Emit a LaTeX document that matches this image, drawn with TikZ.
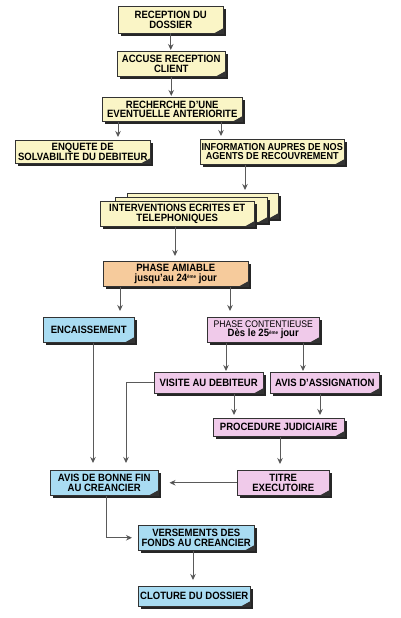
\documentclass[tikz,border=0pt]{standalone}
\usepackage{fontspec}
\setmainfont{Liberation Sans}[FakeStretch=0.9]
\usetikzlibrary{shadows,arrows.meta,calc}
\definecolor{cy}{HTML}{FAF5C6}
\definecolor{co}{HTML}{F6CB9C}
\definecolor{cb}{HTML}{A9DCF2}
\definecolor{cp}{HTML}{F0CAEA}
\definecolor{cline}{HTML}{5A5A5A}
\newcommand{\supx}[1]{\raisebox{2.6pt}{\fontsize{5}{5}\selectfont #1}}
\tikzset{
  bx/.style={draw=black!80, line width=0.5pt, fill=#1, anchor=north west,
    inner sep=1pt, align=center, text=black,
    font=\bfseries\fontsize{10.6}{9.4}\selectfont,
    drop shadow={shadow xshift=3pt, shadow yshift=-3pt, fill=black!85, opacity=1},
    path picture={\fill[black!80] ([xshift=-9pt]path picture bounding box.south east)
        -- ([yshift=5pt]path picture bounding box.south east)
        -- (path picture bounding box.south east) -- cycle;}},
  arr/.style={draw=cline, line width=0.8pt, -{Stealth[length=6pt,width=5.5pt,fill=black!85]}, shorten >=3pt}
}
\begin{document}
\begin{tikzpicture}[x=1pt,y=-1pt]
\useasboundingbox[fill=white] (0,0) rectangle (400,618);
% x positions for connectors
\foreach \v in {93,106,118,120,126,175,193,221,226,230,234,245,280,303,320}
  \coordinate (x\v) at (\v,0);
% boxes
\node[bx=cy, minimum width=105, minimum height=27] (b1) at (118,6) {RECEPTION DU\\DOSSIER};
\node[bx=cy, minimum width=108, minimum height=25] (b2) at (117,51) {ACCUSE RECEPTION\\CLIENT};
\node[bx=cy, minimum width=140, minimum height=24] (b3) at (102,97) {RECHERCHE D'UNE\\EVENTUELLE ANTERIORITE};
\node[bx=cy, minimum width=135, minimum height=23] (b4) at (15,140) {ENQUETE DE\\SOLVABILITE DU DEBITEUR};
\node[bx=cy, minimum width=144, minimum height=25, font=\bfseries\fontsize{10.1}{9.4}\selectfont] (b5) at (200,139) {INFORMATION AUPRES DE NOS\\AGENTS DE RECOUVREMENT};
\node[bx=cy, minimum width=151, minimum height=25] (b6c) at (127,193) {};
\node[bx=cy, minimum width=152, minimum height=25] (b6b) at (115,197) {};
\node[bx=cy, minimum width=154, minimum height=25] (b6a) at (100,201) {INTERVENTIONS ECRITES ET\\TELEPHONIQUES};
\node[bx=co, minimum width=145, minimum height=25] (b7) at (103,261) {PHASE AMIABLE\\jusqu'au 24\supx{ème} jour};
\node[bx=cb, minimum width=91, minimum height=25] (b8) at (43,317) {ENCAISSEMENT};
\node[bx=cp, minimum width=112, minimum height=25] (b9) at (207,317) {{\mdseries\fontsize{9.6}{9}\selectfont PHASE CONTENTIEUSE}\\Dès le 25\supx{ème} jour};
\node[bx=cp, minimum width=109, minimum height=21] (b10) at (154,372) {VISITE AU DEBITEUR};
\node[bx=cp, minimum width=109, minimum height=21] (b11) at (270,372) {AVIS D'ASSIGNATION};
\node[bx=cp, minimum width=131, minimum height=18] (b12) at (213,418) {PROCEDURE JUDICIAIRE};
\node[bx=cp, minimum width=92, minimum height=25] (b13) at (237,470) {TITRE\\EXECUTOIRE};
\node[bx=cb, minimum width=108, minimum height=25] (b14) at (50,470) {AVIS DE BONNE FIN\\AU CREANCIER};
\node[bx=cb, minimum width=116, minimum height=25] (b15) at (138,525) {VERSEMENTS DES\\FONDS AU CREANCIER};
\node[bx=cb, minimum width=112, minimum height=20] (b16) at (138,586) {CLOTURE DU DOSSIER};
% connectors
\draw[arr, shorten >=1pt] (b1.south) -- (b1.south |- b2.north);
\draw[arr, shorten >=1pt] (b2.south) -- (b2.south |- b3.north);
\draw[arr] (b3.south -| x118) -- (b4.north -| x118);
\draw[arr] (b3.south -| x221) -- (b5.north -| x221);
\draw[arr] (b5.south -| x245) -- (b6c.north -| x245);
\draw[arr, shorten >=5pt] (b6a.south -| x175) -- (b7.north -| x175);
\draw[arr, shorten >=6pt] (b7.south -| x120) -- (b8.north -| x120);
\draw[arr, shorten >=6pt] (b7.south -| x230) -- (b9.north -| x230);
\draw[arr, shorten >=1pt] (b9.south -| x226) -- (b10.north -| x226);
\draw[arr, shorten >=1pt] (b9.south -| x303) -- (b11.north -| x303);
\draw[arr] (b10.south -| x234) -- (b12.north -| x234);
\draw[arr] (b11.south -| x320) -- (b12.north -| x320);
\draw[arr, shorten >=6pt] (b12.south -| x280) -- (b13.north -| x280);
\draw[arr, shorten >=11pt] (b13.west) -- (b13.west -| b14.east);
\draw[arr, shorten >=7pt] (b8.south -| x93) -- (b14.north -| x93);
\draw[arr, shorten >=7pt] (b10.west) -| (b14.north -| x126);
\draw[arr, shorten >=6pt] (b14.south -| x106) |- (b15.west);
\draw[arr, shorten >=6pt] (b15.south -| x193) -- (b16.north -| x193);
\end{tikzpicture}
\end{document}
